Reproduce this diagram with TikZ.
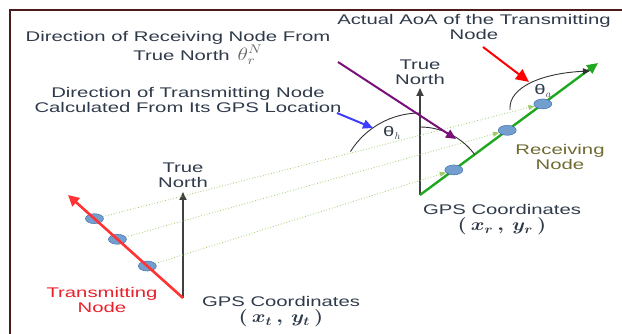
\documentclass[tikz,border=0pt]{standalone}
\usepackage{fontspec}
\setmainfont{Liberation Sans}[FakeStretch=1.45]
\usepackage{graphicx}
\usepackage{tikz}
\usetikzlibrary{arrows.meta, positioning, calc, shapes.geometric}
\definecolor{FrameBrown}{HTML}{4A1C1C}
\definecolor{LabelText}{HTML}{2F3A4A}
\definecolor{TxRed}{HTML}{FF3333}
\definecolor{TxText}{HTML}{E8202A}
\definecolor{RxGreen}{HTML}{1FA71F}
\definecolor{RxText}{HTML}{6E6A30}
\definecolor{RayGreen}{HTML}{9BCB6B}
\definecolor{DotFill}{HTML}{729FCF}
\definecolor{DotLine}{HTML}{3465A4}
\definecolor{PointerBlue}{HTML}{3D3DFF}
\definecolor{PointerPurple}{HTML}{7A0F7A}
\definecolor{ThetaGray}{HTML}{666666}
\newcommand{\widemath}[1]{\scalebox{1.45}[1.2]{\boldmath#1}}
\tikzset{
  lbl/.style={font=\fontsize{14}{15}\selectfont, text=LabelText, align=center, inner sep=0pt},
  gpsdot/.style={ellipse, draw=DotLine, fill=DotFill, minimum width=18pt, minimum height=10pt, inner sep=0pt},
  northarrow/.style={draw=black!75, line width=1.8pt, -{Triangle[length=8pt,width=7pt]}},
  gpsray/.style={draw=RayGreen, line width=0.8pt, dotted, -{Triangle[length=6pt,width=5pt]}},
  anglearc/.style={draw=black!80, line width=0.9pt},
  pointer/.style={line width=2pt, -{Triangle[length=10pt,width=9pt]}}
}

\begin{document}
\begin{tikzpicture}[x=1pt,y=1pt]
\useasboundingbox (0,0) rectangle (622,334);
\draw[FrameBrown, line width=2pt] (10,0) -- (10,324) -- (622,324);

% transmitting side
\coordinate (tgps) at (183,36);
\coordinate (ttip) at (68,139);
\coordinate (tnorth) at (183,142);
\draw[northarrow] (tgps) -- (tnorth);
\foreach \i/\p in {1/0.31, 2/0.57, 3/0.77}
  \node[gpsdot] (tdot\i) at ($(tgps)!\p!(ttip)$) {};
\draw[TxRed, line width=2.6pt, -{Triangle[length=11pt,width=11pt]}] (tgps) -- (ttip);

% receiving side
\coordinate (rgps) at (420,139);
\coordinate (rtip) at (598,271);
\coordinate (rnorth) at (420,246);
\draw[northarrow] (rgps) -- (rnorth);
\draw[RxGreen, line width=2.4pt, -{Triangle[length=11pt,width=10pt]}] (rgps) -- (rtip);
\foreach \i/\p in {1/0.19, 2/0.49, 3/0.69}
  \node[gpsdot] (rdot\i) at ($(rgps)!\p!(rtip)$) {};

% rays from the transmitter
\foreach \i in {1,2,3}
  \draw[gpsray] (tdot\i) -- (rdot\i);

% angles
\draw[anglearc] ($(rgps)+(148:82)$) arc[start angle=148, end angle=90, radius=82];
\draw[anglearc] ($(rgps)+(90:68)$) arc[start angle=90, end angle=36.6, radius=68];
\coordinate (aoastart) at (510,224);
\coordinate (aoaend) at (590,263);
\draw[anglearc, -{Triangle[length=7pt,width=6pt]}] (aoastart) .. controls (508,248) and (545,261) .. (aoaend);
\node[lbl, font=\fontsize{14}{14}\selectfont] (thetah) at (392,201) {θ$_h$};
\node[lbl, font=\fontsize{14}{14}\selectfont] (thetaa) at (543,243) {θ$_a$};

% labels
\node[lbl] (tnorthlbl) [above=4pt of tnorth] {True\\North};
\node[lbl] (rnorthlbl) [above=3pt of rnorth] {True\\North};
\node[lbl, text=TxText] (txlbl) at (102,34) {Transmitting\\Node};
\node[lbl, text=RxText] (rxlbl) at (560,177) {Receiving\\Node};
\node[lbl] (tgpslbl) at (281,22) {GPS Coordinates\\[1pt]\widemath{$(\,x_t\,,\,y_t\,)$}};
\node[lbl] (rgpslbl) at (502,114) {GPS Coordinates\\[1pt]\widemath{$(\,x_r\,,\,y_r\,)$}};
\node[lbl] (recvdir) at (178,286) {Direction of Receiving Node From\\\hspace*{40pt}True North\, \textcolor{ThetaGray}{\scalebox{1.5}[1.25]{$\theta_r^N$}}};
\node[lbl] (txdir) at (188,234) {Direction of Transmitting Node\\Calculated From Its GPS Location};
\node[lbl] (aoalbl) at (474,307) {Actual AoA of the Transmitting\\Node};

% pointers
\coordinate (purplestart) at (338,272);
\coordinate (purpleend) at (456,195);
\coordinate (bluestart) at (337,221);
\coordinate (blueend) at (373,206);
\coordinate (redstart) at (483,287);
\coordinate (redend) at (529,252);
\draw[pointer, PointerPurple] (purplestart) -- (purpleend);
\draw[pointer, PointerBlue] (bluestart) -- (blueend);
\draw[pointer, red, -{Triangle[length=13pt,width=12pt]}] (redstart) -- (redend);
\end{tikzpicture}
\end{document}
